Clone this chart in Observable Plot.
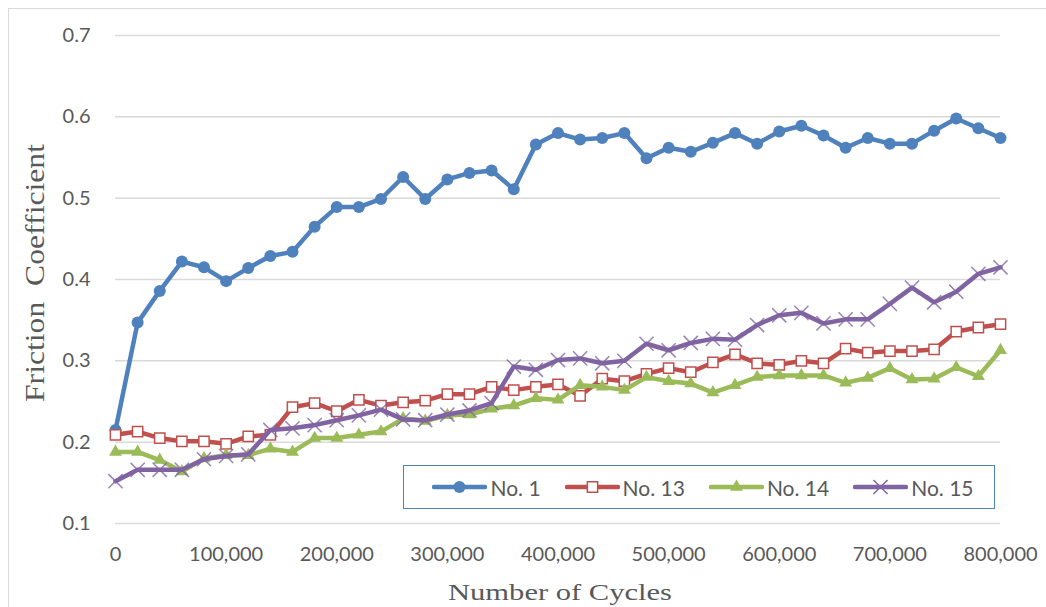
<!DOCTYPE html>
<html>
<head>
<meta charset="utf-8">
<script src="https://cdn.jsdelivr.net/npm/d3@7"></script>
<script src="https://cdn.jsdelivr.net/npm/@observablehq/plot@0.6"></script>
<style>
  html, body { margin: 0; padding: 0; background: #fff; }
  #wrap { position: relative; width: 1046px; height: 607px; overflow: hidden; }
  #frame { position: absolute; left: 8px; top: 8px; width: 1100px; height: 700px;
           border-left: 1.5px solid #d9d9d9; border-top: 1.5px solid #d9d9d9; }
  #legend { position: absolute; left: 403px; top: 465px; width: 582px; height: 42px;
            border: 1.5px solid #4f81bd; display: flex; align-items: center; justify-content: center;
            gap: 24px; padding-left: 8px; box-sizing: content-box;
            font-family: Lato, sans-serif; font-size: 21px; color: #595959; }
  #legend .item { display: flex; align-items: center; gap: 3px; }
  #legend svg { display: block; }
</style>
</head>
<body>
<div id="wrap">
  <div id="frame"></div>
  <div id="chart"></div>
  <div id="legend"></div>
</div>
<script>
// Number of cycles at each measurement
const cycles = [0, 20000, 40000, 60000, 80000, 100000, 120000, 140000, 160000, 180000,
  200000, 220000, 240000, 260000, 280000, 300000, 320000, 340000, 360000, 380000,
  400000, 420000, 440000, 460000, 480000, 500000, 520000, 540000, 560000, 580000,
  600000, 620000, 640000, 660000, 680000, 700000, 720000, 740000, 760000, 780000, 800000];

// Friction coefficient for each specimen
const no1 = [0.215, 0.347, 0.386, 0.422, 0.415, 0.398, 0.414, 0.429, 0.434, 0.465,
  0.489, 0.489, 0.499, 0.526, 0.499, 0.523, 0.531, 0.534, 0.511, 0.566,
  0.580, 0.572, 0.574, 0.580, 0.549, 0.562, 0.557, 0.568, 0.580, 0.567,
  0.582, 0.589, 0.577, 0.562, 0.574, 0.567, 0.567, 0.583, 0.598, 0.586, 0.574];
const no13 = [0.209, 0.213, 0.205, 0.201, 0.201, 0.198, 0.207, 0.209, 0.243, 0.248,
  0.238, 0.252, 0.245, 0.249, 0.251, 0.259, 0.259, 0.268, 0.264, 0.268,
  0.271, 0.257, 0.278, 0.275, 0.284, 0.291, 0.286, 0.298, 0.308, 0.297,
  0.295, 0.300, 0.297, 0.315, 0.310, 0.312, 0.312, 0.314, 0.336, 0.341, 0.345];
const no14 = [0.188, 0.188, 0.178, 0.164, 0.180, 0.184, 0.184, 0.192, 0.188, 0.205,
  0.205, 0.209, 0.213, 0.229, 0.226, 0.233, 0.234, 0.241, 0.245, 0.254,
  0.252, 0.270, 0.268, 0.264, 0.280, 0.275, 0.272, 0.261, 0.270, 0.280,
  0.282, 0.282, 0.282, 0.273, 0.279, 0.291, 0.277, 0.278, 0.292, 0.281, 0.313];
const no15 = [0.152, 0.166, 0.166, 0.166, 0.179, 0.183, 0.185, 0.215, 0.217, 0.221,
  0.227, 0.233, 0.240, 0.228, 0.227, 0.234, 0.239, 0.248, 0.293, 0.289,
  0.301, 0.303, 0.297, 0.300, 0.321, 0.313, 0.322, 0.327, 0.326, 0.344,
  0.356, 0.359, 0.346, 0.351, 0.351, 0.370, 0.390, 0.372, 0.385, 0.407, 0.415];

const xTicks = [0, 100000, 200000, 300000, 400000, 500000, 600000, 700000, 800000];
const yTicks = [0.1, 0.2, 0.3, 0.4, 0.5, 0.6, 0.7];

const seriesNames = ["No. 1", "No. 13", "No. 14", "No. 15"];
const seriesValues = [no1, no13, no14, no15];
const colors = ["#4f81bd", "#c0504d", "#9bbb59", "#8064a2"];
const markers = [
  {symbol: "circle", r: 6, fill: true},
  {symbol: "square", r: 5.8, fill: false},
  {symbol: "triangle", r: 4.8, fill: true},
  {symbol: "times", r: 6.5, fill: false}
];

const tables = seriesValues.map((vals, k) =>
  cycles.map((c, i) => ({cycles: c, value: vals[i], series: seriesNames[k]})));

const marks = [
  Plot.gridY(yTicks, {stroke: "#d9d9d9", strokeOpacity: 1, strokeWidth: 1.5}),
  Plot.axisX(xTicks, {tickSize: 0, tickPadding: 23, tickFormat: d3.format(","), label: null}),
  Plot.axisY(yTicks, {tickSize: 0, tickPadding: 25, tickFormat: d3.format(".1f"), label: null})
];
tables.forEach((data, k) => {
  const m = markers[k];
  marks.push(Plot.line(data, {x: "cycles", y: "value", stroke: colors[k], strokeWidth: 4.5,
    strokeLinejoin: "round", strokeLinecap: "round"}));
  marks.push(Plot.dot(data, {x: "cycles", y: "value", symbol: m.symbol, r: m.r,
    fill: m.fill ? colors[k] : (m.symbol === "square" ? "white" : "none"),
    stroke: colors[k], strokeWidth: m.fill ? 0 : 1.5,
    strokeOpacity: m.symbol === "times" ? 0.8 : 1}));
});

const chart = Plot.plot({
  width: 1046,
  height: 607,
  marginLeft: 115,
  marginRight: 46,
  marginTop: 35,
  marginBottom: 84,
  style: {fontFamily: "Lato, sans-serif", fontSize: "20px", color: "#595959", background: "transparent"},
  x: {domain: [0, 800000]},
  y: {domain: [0.1, 0.7]},
  marks
});

// axis titles
const svg = d3.select(chart);
svg.append("text")
  .attr("x", 560).attr("y", 600)
  .attr("text-anchor", "middle")
  .attr("textLength", 224).attr("lengthAdjust", "spacingAndGlyphs")
  .style("font-family", "'Liberation Serif', serif").style("font-size", "24px")
  .attr("fill", "#595959")
  .text("Number of Cycles");
svg.append("text")
  .attr("transform", "translate(44,273) rotate(-90)")
  .attr("text-anchor", "middle")
  .attr("textLength", 258).attr("lengthAdjust", "spacingAndGlyphs")
  .style("font-family", "'Liberation Serif', serif").style("font-size", "27px")
  .attr("fill", "#595959")
  .text("Friction\u00a0\u00a0Coefficient");

document.getElementById("chart").appendChild(chart);
chart.style.position = "absolute";
chart.style.left = "0px";
chart.style.top = "0px";

// legend
const legend = d3.select("#legend");
seriesNames.forEach((name, k) => {
  const item = legend.append("div").attr("class", "item");
  const sw = item.append("svg").attr("width", 55).attr("height", 20);
  sw.append("line").attr("x1", 2).attr("x2", 53).attr("y1", 10).attr("y2", 10)
    .attr("stroke", colors[k]).attr("stroke-width", 4.5).attr("stroke-linecap", "round");
  const m = markers[k];
  const sym = {circle: d3.symbolCircle, square: d3.symbolSquare, triangle: d3.symbolTriangle, times: d3.symbolTimes}[m.symbol];
  sw.append("path").attr("transform", "translate(27.5,10)")
    .attr("d", d3.symbol(sym, Math.PI * m.r * m.r)())
    .attr("fill", m.fill ? colors[k] : (m.symbol === "square" ? "white" : "none"))
    .attr("stroke", m.fill ? "none" : colors[k]).attr("stroke-width", 1.5);
  item.append("span").text(name);
});
</script>
</body>
</html>
